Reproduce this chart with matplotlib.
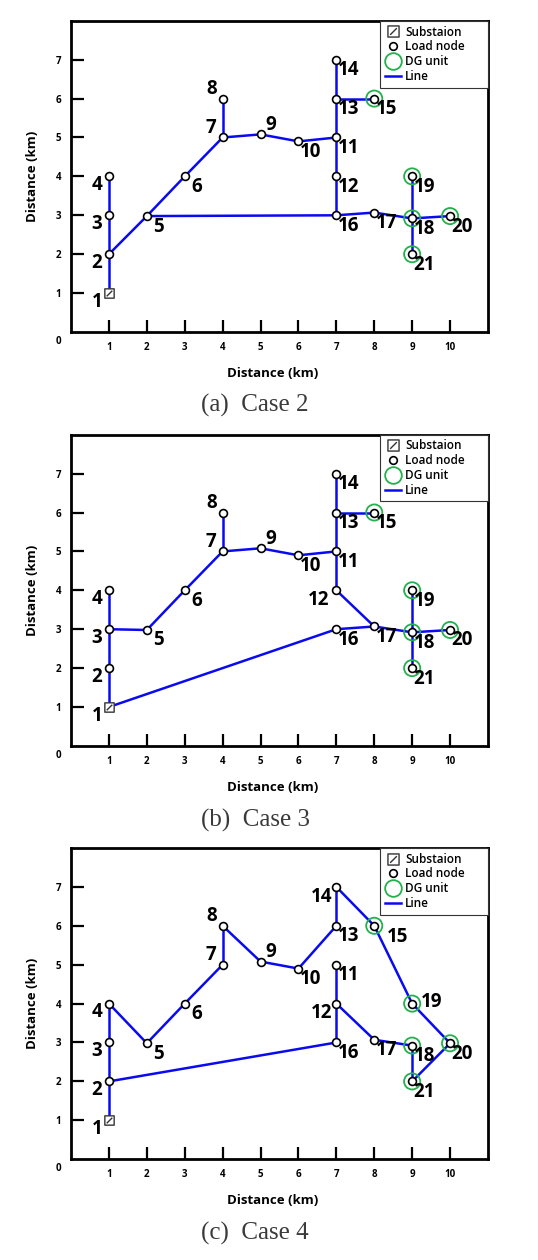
import matplotlib
matplotlib.use("Agg")
import matplotlib.pyplot as plt
from matplotlib.lines import Line2D
from matplotlib.path import Path

plt.rcParams['font.family'] = ['Open Sans', 'DejaVu Sans']

# node coordinates (km), node 1 is the substation
node_x = [1, 1, 1, 1, 2, 3, 4, 4, 5, 6, 7, 7, 7, 7, 8, 7, 8, 9, 9, 10, 9]
node_y = [1, 2, 3, 4, 2.98, 4, 5, 6, 5.08, 4.9, 5, 4, 6, 7, 6, 3, 3.07, 2.92, 4, 2.98, 2]
dg_nodes = [15, 18, 19, 20, 21]

edges_case2 = [(1, 2), (2, 3), (3, 4), (2, 5), (5, 6), (6, 7), (7, 8), (7, 9),
               (9, 10), (10, 11), (11, 12), (12, 16), (11, 13), (13, 14), (13, 15),
               (5, 16), (16, 17), (17, 18), (18, 19), (18, 20), (18, 21)]
edges_case3 = [(1, 2), (2, 3), (3, 4), (3, 5), (5, 6), (6, 7), (7, 8), (7, 9),
               (9, 10), (10, 11), (11, 12), (11, 13), (13, 14), (13, 15), (12, 17),
               (1, 16), (16, 17), (17, 18), (18, 19), (18, 20), (18, 21)]
edges_case4 = [(1, 2), (2, 3), (3, 4), (4, 5), (5, 6), (6, 7), (7, 8), (8, 9),
               (9, 10), (10, 13), (13, 14), (14, 15), (15, 19), (19, 20), (20, 21),
               (21, 18), (18, 17), (17, 12), (12, 11), (12, 16), (16, 2)]

captions = ['(a)  Case 2', '(b)  Case 3', '(c)  Case 4']
x_ticks = [1, 2, 3, 4, 5, 6, 7, 8, 9, 10]
y_ticks = [1, 2, 3, 4, 5, 6, 7]

# label placement (offset from node, in km)
default_off = (0.32, -0.27)
left_off = (-0.32, -0.22)
base_off = {1: left_off, 2: left_off, 3: left_off, 4: left_off,
            7: (-0.30, 0.25), 8: (-0.30, 0.25), 9: (0.28, 0.25)}
extra_off = [{}, {12: (-0.48, -0.26)},
             {12: (-0.38, -0.24), 14: (-0.38, -0.26), 15: (0.62, -0.30), 19: (0.50, 0.03)}]

# square with a single diagonal stroke for the substation
sub_marker = Path([(-1, -1), (1, -1), (1, 1), (-1, 1), (-1, -1), (-0.6, -0.6), (0.6, 0.6)],
                  [Path.MOVETO, Path.LINETO, Path.LINETO, Path.LINETO, Path.CLOSEPOLY,
                   Path.MOVETO, Path.LINETO])

blue = '#0a0af0'
green = '#22b14c'

fig = plt.figure(figsize=(5.38, 12.6), dpi=100)
bottoms = [0.7365, 0.408, 0.080]
cap_y = [1 - 405 / 1260, 1 - 820 / 1260, 1 - 1233 / 1260]

for k, edges in enumerate([edges_case2, edges_case3, edges_case4]):
    ax = fig.add_axes([0.132, bottoms[k], 0.775, 0.247])

    for a, b in edges:
        ax.plot([node_x[a - 1], node_x[b - 1]], [node_y[a - 1], node_y[b - 1]],
                color=blue, lw=1.8, zorder=2, solid_capstyle='round')

    ax.scatter(node_x[1:], node_y[1:], s=32, facecolor='white', edgecolor='black',
               linewidths=1.2, zorder=4)
    ax.scatter([node_x[n - 1] for n in dg_nodes], [node_y[n - 1] for n in dg_nodes],
               s=135, facecolor='none', edgecolor=green, linewidths=1.3, zorder=3)
    ax.scatter(node_x[:1], node_y[:1], s=45, marker=sub_marker, facecolor='white',
               edgecolor='#333333', linewidths=1.0, zorder=4)

    offs = dict(base_off)
    offs.update(extra_off[k])
    for i in range(len(node_x)):
        dx, dy = offs.get(i + 1, default_off)
        ax.text(node_x[i] + dx, node_y[i] + dy, str(i + 1), fontsize=13.5,
                fontweight='bold', ha='center', va='center', zorder=5)

    ax.set_xlim(0, 11)
    ax.set_ylim(0, 8)
    ax.set_xticks(x_ticks)
    ax.set_yticks(y_ticks)
    ax.tick_params(direction='in', length=9, width=1.6, labelsize=7, pad=7)
    for lab in ax.get_xticklabels() + ax.get_yticklabels():
        lab.set_fontweight('bold')
    ax.text(-0.32, -0.1, '0', fontsize=7, fontweight='bold',
            ha='center', va='top', clip_on=False)
    for sp in ax.spines.values():
        sp.set_linewidth(2)

    ax.set_xlabel('Distance (km)', fontsize=9.5, fontweight='bold')
    ax.set_ylabel('Distance (km)', fontsize=9.5, fontweight='bold')
    ax.xaxis.set_label_coords(0.484, -0.113)
    ax.yaxis.set_label_coords(-0.077, 0.5)

    handles = [
        Line2D([], [], ls='none', marker=sub_marker, ms=8, mfc='white', mec='#333333', mew=1.0),
        Line2D([], [], ls='none', marker='o', ms=5.5, mfc='white', mec='black', mew=1.2),
        Line2D([], [], ls='none', marker='o', ms=12, mfc='none', mec=green, mew=1.3),
        Line2D([], [], color=blue, lw=1.8),
    ]
    leg = ax.legend(handles, ['Substaion', 'Load node', 'DG unit', 'Line'],
                    loc='upper right', bbox_to_anchor=(0.741, 0, 0.259, 1),
                    mode='expand', borderaxespad=0, fancybox=False,
                    edgecolor='#333333', framealpha=1, handlelength=1.4,
                    handletextpad=0.35, labelspacing=0.15, borderpad=0.4,
                    prop={'size': 8.5, 'weight': 'semibold'})
    leg.get_frame().set_linewidth(0.8)

    fig.text(0.474, cap_y[k], captions[k], fontsize=18, family='Liberation Serif',
             color='#3a3a3a', ha='center', va='center')

fig.savefig('out.png', dpi=100)
